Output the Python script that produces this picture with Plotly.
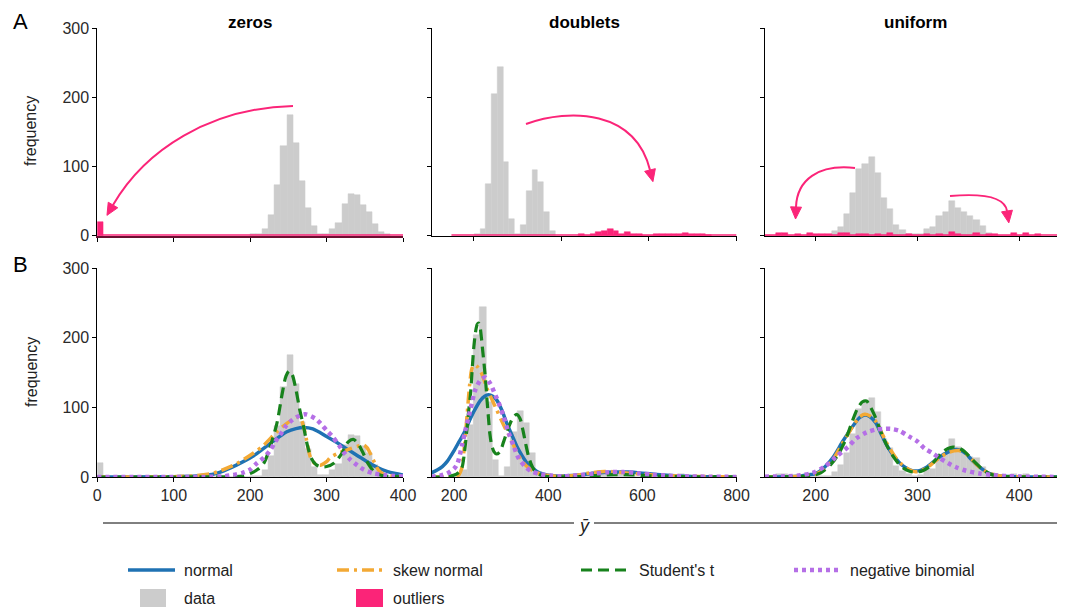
import numpy as np
import plotly.graph_objects as go

# page body adds an 8px offset; the figure is sized so the picture lines up with the 1065x611 window
OFF = 8
W, H = 1065 - OFF, 611 - OFF

# ---------------- data ----------------
panel_titles = ["zeros", "doublets", "uniform"]

zeros_bin_width = 8
zeros_inlier_start = 200
zeros_inlier_counts = [2, 2, 10, 30, 73, 129, 175, 134, 79, 40, 14, 3, 3, 10, 19, 46, 60, 59, 44, 34, 17, 5, 2]
zeros_outlier_start = 0
zeros_outlier_counts = [20]
zeros_outlier_span = [0, 400]

doublets_bin_width = 13.2
doublets_inlier_start = 202
doublets_inlier_counts = [3, 10, 74, 204, 244, 107, 24, 2, 15, 64, 95, 78, 34, 7]
doublets_outlier_start = 439.6
doublets_outlier_counts = [3, 0, 2, 6, 7, 9, 7, 3, 5, 3, 2, 0, 0, 2, 2, 3, 3, 3, 4, 3, 2, 2, 1]
doublets_outlier_span = [150, 800]

uniform_bin_width = 6.06
uniform_inlier_start = 215.7
uniform_inlier_counts = [7, 13, 31, 62, 96, 103, 114, 91, 54, 38, 16, 8, 2, 2, 3, 10, 12, 28, 34, 50,
                         40, 34, 28, 23, 14, 4]
uniform_outlier_start = 149.04
uniform_outlier_counts = [0, 0, 4, 4, 0, 2, 0, 4, 2, 2, 2, 0, 4, 4, 0, 2, 3, 0, 3, 0, 4, 0, 0, 2, 0,
                          0, 2, 0, 3, 0, 5, 3, 0, 0, 4, 0, 2, 3, 0, 0, 4, 0, 4, 0, 2]
uniform_outlier_span = [150, 440]

# fitted densities (scaled to counts)
zeros_normal_x = [0, 50, 100, 130, 150, 161, 182, 204, 226, 248, 260, 270, 282, 300, 314, 327, 340, 353, 366, 379, 390, 400]
zeros_normal_y = [0, 0.1, 0.5, 1.5, 3.5, 7, 17, 30, 48, 65, 69.5, 71, 69, 58, 49, 40, 31, 22, 14, 8, 5, 3]
zeros_skew_x = [0, 50, 100, 130, 150, 161, 182, 204, 218, 235, 248, 256, 262, 266, 270, 274, 279, 285, 292,
                300, 305, 315, 327, 340, 348, 353, 358, 363, 368, 375, 385, 400]
zeros_skew_y = [0, 0.1, 0.5, 2, 5, 9, 19, 34, 46, 65, 77, 83, 86, 84, 72, 52, 28, 19, 17,
                22, 28, 34, 39, 44, 46, 42, 32, 20, 10, 4, 1.5, 0.5]
zeros_student_x = [0, 100, 150, 180, 190, 200, 210, 218, 226, 235, 242, 247, 251, 255, 260, 265, 270, 275,
                   280, 286, 292, 300, 310, 320, 328, 335, 341, 348, 355, 362, 370, 380, 400]
zeros_student_y = [0, 0, 0.2, 0.6, 1.5, 5, 11, 20, 43, 77, 120, 145, 152, 147, 125, 96, 72, 45,
                   27, 18, 15, 15, 20, 34, 50, 54, 48, 34, 18, 8, 3, 1, 0.2]
zeros_negbin_x = [0, 100, 150, 165, 178, 190, 199, 209, 218, 226, 233, 239, 246, 252, 261, 272, 285, 292,
                  300, 307, 316, 322, 331, 340, 348, 362, 375, 388, 400]
zeros_negbin_y = [0, 0, 0.3, 1, 3, 6, 10, 20, 28, 38, 51, 60, 72, 79, 86, 90, 84, 77,
                  67, 59, 46, 36, 25, 17, 11, 5, 3, 1.5, 0.8]

doublets_normal_x = [152, 164, 175, 185, 200, 210, 221, 232, 242, 256, 265, 273, 282, 291, 302, 312, 323, 334,
                     345, 355, 366, 376, 390, 405, 420, 450, 480, 510, 540, 570, 600, 630, 660, 700, 750, 800]
doublets_normal_y = [6, 10, 15, 22, 38, 50, 63, 80, 94, 110, 116, 118, 116, 110, 95, 77, 60, 43,
                     30, 20, 13, 8, 4, 2, 1.5, 2, 4, 6, 7, 7, 5.5, 3.5, 2, 0.8, 0.3, 0.1]
doublets_skew_x = [152, 180, 200, 210, 216, 222, 228, 233, 238, 243, 250, 259, 270, 280, 290, 300, 310, 320,
                   330, 342, 355, 370, 385, 400, 430, 460, 490, 520, 550, 580, 610, 640, 680, 720, 800]
doublets_skew_y = [0, 0, 0.5, 3, 12, 45, 92, 132, 156, 161, 158, 148, 127, 112, 97, 82, 68, 56,
                   40, 25, 15, 8, 4, 2, 1, 2.5, 6, 8, 7, 5, 3.5, 2.5, 1.5, 0.8, 0.2]
doublets_student_x = [152, 190, 205, 212, 217, 222, 227, 231, 235, 239, 242, 246, 249, 252, 255, 258, 261, 264,
                      267, 270, 273, 276, 280, 285, 290, 297, 305, 315, 325, 333, 340, 346, 352, 358, 364,
                      370, 380, 395, 420, 460, 500, 540, 580, 620, 680, 800]
doublets_student_y = [0, 1, 4, 8, 14, 35, 67, 95, 120, 160, 187, 210, 219, 221, 216, 200, 180, 160,
                      138, 110, 85, 62, 45, 36, 33, 36, 50, 70, 85, 90, 84, 68, 48, 30, 18,
                      10, 4, 1, 0.3, 0.5, 2, 3.5, 3, 1.5, 0.5, 0.1]
doublets_negbin_x = [152, 170, 185, 192, 200, 207, 217, 224, 235, 245, 256, 266, 277, 288, 295, 305, 316, 327,
                     337, 351, 365, 383, 404, 430, 470, 500, 530, 560, 590, 620, 650, 700, 800]
doublets_negbin_y = [0.5, 2, 5, 8, 12, 19, 46, 67, 98, 125, 139, 143, 134, 117, 106, 87, 63, 44,
                     27, 15, 8, 4, 2, 1, 3, 5, 7, 7, 5.5, 3.5, 2, 0.8, 0.1]

uniform_x = [150, 170, 185, 195, 200, 208, 217, 227, 237, 243, 248, 253, 259, 264, 269, 274, 279, 284, 289,
             294, 298, 303, 309, 316, 322, 329, 336, 341, 348, 353, 358, 364, 371, 380, 390, 400, 420, 445]
uniform_normal_y = [0, 0.3, 1.5, 3.5, 5, 13, 28, 52, 74, 85, 89, 87, 78, 63, 48, 36, 26, 18, 13,
                    9.5, 8.5, 9.5, 14, 22, 29, 35, 39, 39, 33, 25, 18, 11, 5, 2, 0.8, 0.3, 0.1, 0]
uniform_skew_y = [0, 0.2, 1, 2.5, 4, 11, 25, 50, 74, 86, 90, 88, 80, 66, 51, 38, 27, 19, 13,
                  9, 7.5, 8.5, 13, 21, 28, 34, 37.5, 38, 33, 26, 18, 11, 5, 2, 0.7, 0.2, 0.1, 0]
uniform_student_x = [150, 180, 195, 205, 215, 222, 229, 236, 241, 246, 250, 254, 258, 262, 266, 270, 275, 281,
                     287, 293, 299, 305, 312, 318, 324, 330, 335, 340, 346, 352, 358, 364, 372, 385, 400, 445]
uniform_student_y = [0, 0.5, 2, 6, 18, 32, 52, 80, 98, 108, 109, 100, 88, 73, 58, 45, 32, 20,
                     12, 8, 7, 9, 15, 25, 35, 41, 43, 42, 37, 28, 19, 11, 4, 1, 0.3, 0]
uniform_negbin_x = [150, 170, 185, 197, 209, 220, 232, 240, 250, 259, 267, 274, 282, 292, 300, 307, 315, 322,
                    330, 338, 348, 361, 374, 387, 400, 420, 445]
uniform_negbin_y = [0.5, 1, 2.5, 6, 15, 29, 43.5, 55.5, 64, 68, 69, 69, 66.5, 58, 51, 41, 34, 27,
                    20, 14, 9, 5, 3, 1.4, 0.7, 0.3, 0.1]

y_ticks = [0, 100, 200, 300]
x_ticks_zeros = [0, 100, 200, 300, 400]
x_ticks_doublets = [200, 400, 600, 800]
x_ticks_uniform = [200, 300, 400]

# ---------------- style ----------------
GRAY = "#cccccc"
PINK = "#fb2478"
BLUE = "#1f72b3"
ORANGE = "#f3a935"
GREEN = "#17821c"
PURPLE = "#b56fe6"
FONT = "Liberation Sans, Arial, sans-serif"

fits = [
    ("normal", BLUE, "solid", 3.5),
    ("skew normal", ORANGE, "12px,5px,3px,5px", 3.5),
    ("Student's t", GREEN, "11px,6px", 3.2),
    ("negative binomial", PURPLE, "4px,4px", 4.5),
]


def centers(start, width, n):
    return start + width * (np.arange(n) + 0.5)


def totals(s_in, c_in, s_out, c_out, w):
    s0 = min(s_in, s_out)
    o_in = int(round((s_in - s0) / w))
    o_out = int(round((s_out - s0) / w))
    n = max(o_in + len(c_in), o_out + len(c_out))
    t = np.zeros(n)
    t[o_in:o_in + len(c_in)] += np.array(c_in, float)
    t[o_out:o_out + len(c_out)] += np.array(c_out, float)
    return s0, t


panels = [
    dict(w=zeros_bin_width, si=zeros_inlier_start, ci=zeros_inlier_counts, so=zeros_outlier_start,
         co=zeros_outlier_counts, span=zeros_outlier_span,
         curves=[(zeros_normal_x, zeros_normal_y), (zeros_skew_x, zeros_skew_y),
                 (zeros_student_x, zeros_student_y), (zeros_negbin_x, zeros_negbin_y)]),
    dict(w=doublets_bin_width, si=doublets_inlier_start, ci=doublets_inlier_counts, so=doublets_outlier_start,
         co=doublets_outlier_counts, span=doublets_outlier_span,
         curves=[(doublets_normal_x, doublets_normal_y), (doublets_skew_x, doublets_skew_y),
                 (doublets_student_x, doublets_student_y), (doublets_negbin_x, doublets_negbin_y)]),
    dict(w=uniform_bin_width, si=uniform_inlier_start, ci=uniform_inlier_counts, so=uniform_outlier_start,
         co=uniform_outlier_counts, span=uniform_outlier_span,
         curves=[(uniform_x, uniform_normal_y), (uniform_x, uniform_skew_y),
                 (uniform_student_x, uniform_student_y), (uniform_negbin_x, uniform_negbin_y)]),
]

fig = go.Figure()

for c, p in enumerate(panels):
    top = str(c + 1) if c > 0 else ""
    bot = str(c + 4)
    xt, yt = "x" + top, "y" + top
    xb, yb = "x" + bot, "y" + bot
    # top: inliers gray + outliers pink
    fig.add_trace(go.Bar(x=centers(p["si"], p["w"], len(p["ci"])), y=p["ci"], width=p["w"],
                         marker=dict(color=GRAY, line=dict(color=GRAY, width=0.5)),
                         xaxis=xt, yaxis=yt, showlegend=False, hoverinfo="skip"))
    fig.add_trace(go.Scatter(x=p["span"], y=[0, 0], mode="lines", line=dict(color=PINK, width=3),
                             xaxis=xt, yaxis=yt, showlegend=False, hoverinfo="skip"))
    fig.add_trace(go.Bar(x=centers(p["so"], p["w"], len(p["co"])), y=p["co"], width=p["w"],
                         marker=dict(color=PINK, line=dict(color=PINK, width=0.5)),
                         xaxis=xt, yaxis=yt, showlegend=False, hoverinfo="skip"))
    # bottom: all data gray + fits
    s0, tot = totals(p["si"], p["ci"], p["so"], p["co"], p["w"])
    fig.add_trace(go.Bar(x=centers(s0, p["w"], len(tot)), y=tot, width=p["w"],
                         marker=dict(color=GRAY, line=dict(color=GRAY, width=0.5)),
                         xaxis=xb, yaxis=yb, showlegend=False, hoverinfo="skip"))
    for (name, col, dash, lw), (cx, cy) in zip(fits, p["curves"]):
        fig.add_trace(go.Scatter(x=cx, y=cy, mode="lines", name=name,
                                 line=dict(color=col, dash=dash, width=lw, shape="spline", smoothing=0.8),
                                 xaxis=xb, yaxis=yb, showlegend=False))

# ---------------- layout (pixel positions in the 1065x611 window) ----------------
col_px = [(97.3, 403.0), (431.5, 736.5), (765.0, 1065.0)]
row_px = [(28.0, 235.7), (268.0, 477.0)]
x_ranges = [[[0, 400], [104.5, 800], [150.2, 445]],
            [[0, 400], [152, 800], [150.2, 445]]]
x_ticks = [x_ticks_zeros, x_ticks_doublets, x_ticks_uniform]


def fx(x):
    return (x - OFF) / W


def fy(y):
    return 1 - (y - OFF) / H


def P(x, y):
    return fx(x), fy(y)


layout = dict(width=W, height=H, margin=dict(l=0, r=0, t=0, b=0, pad=0, autoexpand=False),
              template="none",
              plot_bgcolor="white", paper_bgcolor="white", barmode="overlay", bargap=0,
              showlegend=False, font=dict(family=FONT, size=16, color="#222"))

for r in range(2):
    for c in range(3):
        i = r * 3 + c + 1
        sfx = "" if i == 1 else str(i)
        x0, x1 = col_px[c]
        ytop, ybot = row_px[r]
        layout["xaxis" + sfx] = dict(
            domain=[max(0, fx(x0)), min(1, fx(x1))], range=x_ranges[r][c], anchor="y" + sfx, automargin=False,
            showline=True, linecolor=("#6a0f30" if (r == 0 and c == 0) else "black"),
            linewidth=(2 if (r == 0 and c == 0) else 1),
            ticks="outside", ticklen=4, tickwidth=1, tickcolor="black", tickvals=x_ticks[c],
            showticklabels=(r == 1), showgrid=False, zeroline=False,
            tickfont=dict(size=16, color="#2a2a2a"))
        layout["yaxis" + sfx] = dict(
            domain=[fy(ybot), fy(ytop)], range=[0, 300], anchor="x" + sfx, automargin=False,
            showline=True, linecolor="black", linewidth=1,
            ticks="outside", ticklen=4, tickwidth=1, tickcolor="black", tickvals=y_ticks,
            showticklabels=(c == 0), showgrid=False, zeroline=False,
            tickfont=dict(size=16, color="#2a2a2a"))

fig.update_layout(**layout)

annotations = []
shapes = []

# panel titles
for c, t in enumerate(panel_titles):
    cx = (col_px[c][0] + col_px[c][1]) / 2
    if c == 2:
        cx = 915
    ax, ay = P(cx, 22)
    annotations.append(dict(x=ax, y=ay, xref="paper", yref="paper", text="<b>%s</b>" % t,
                            showarrow=False, font=dict(size=17, color="black"),
                            xanchor="center", yanchor="middle"))
# row letters
for letter, ly in [("A", 21), ("B", 264)]:
    ax, ay = P(20, ly)
    annotations.append(dict(x=ax, y=ay, xref="paper", yref="paper", text=letter, showarrow=False,
                            font=dict(size=22, color="black"), xanchor="center", yanchor="middle"))
# y titles
for ly in [131, 372]:
    ax, ay = P(31, ly)
    annotations.append(dict(x=ax, y=ay, xref="paper", yref="paper", text="frequency", showarrow=False,
                            textangle=-90, font=dict(size=16, color="#222"),
                            xanchor="center", yanchor="middle"))
# shared x title with rule
for (a, b) in [(103, 574), (594, 1063)]:
    xa, ya = P(a, 523)
    xb_, yb_ = P(b, 523)
    shapes.append(dict(type="line", xref="paper", yref="paper", x0=xa, y0=ya, x1=xb_, y1=yb_,
                       line=dict(color="black", width=1)))
ax, ay = P(584, 526)
annotations.append(dict(x=ax, y=ay, xref="paper", yref="paper", text="<i>ȳ</i>", showarrow=False,
                        font=dict(size=18, color="#222"), xanchor="center", yanchor="middle"))


# curved arrows (pixel geometry)
def arrow(p0, c1, c2, p3, L=12.0, hw=5.5):
    d = np.array(p3, float) - np.array(c2, float)
    d /= np.linalg.norm(d)
    tip = np.array(p3, float) + L * d
    n = np.array([-d[1], d[0]])
    b1 = np.array(p3, float) + hw * n
    b2 = np.array(p3, float) - hw * n

    def s(pt):
        x, y = P(pt[0], pt[1])
        return "%.5f,%.5f" % (x, y)

    curve = "M %s C %s %s %s" % (s(p0), s(c1), s(c2), s(p3))
    head = "M %s L %s L %s Z" % (s(tip), s(b1), s(b2))
    shapes.append(dict(type="path", xref="paper", yref="paper", path=curve,
                       line=dict(color=PINK, width=2)))
    shapes.append(dict(type="path", xref="paper", yref="paper", path=head,
                       line=dict(color=PINK, width=1), fillcolor=PINK))


arrow((293, 106), (210, 108), (145, 150), (113, 205))
arrow((526, 124), (570, 108), (635, 110), (650, 170))
arrow((855, 168), (818, 164), (797, 180), (796, 207))
arrow((950, 196), (985, 193), (1005, 198), (1007, 211))

# legend (drawn manually to match layout)
leg_row1 = 570
for (name, col, dash, lw), (lx0, lx1, tx) in zip(
        fits, [(128, 175, 182), (337, 384, 391), (581, 628, 637), (794, 841, 848)]):
    xa, ya = P(lx0, leg_row1)
    xb_, _ = P(lx1, leg_row1)
    shapes.append(dict(type="line", xref="paper", yref="paper", x0=xa, y0=ya, x1=xb_, y1=ya,
                       line=dict(color=col, width=lw, dash=dash)))
    tx_, ty_ = P(tx, leg_row1)
    annotations.append(dict(x=tx_, y=ty_, xref="paper", yref="paper", text=name, showarrow=False,
                            font=dict(size=16, color="#222"), xanchor="left", yanchor="middle"))
leg_row2 = 598
for (name, col), (rx0, rx1, tx) in zip([("data", GRAY), ("outliers", PINK)],
                                        [(140, 166, 182), (356, 383, 391)]):
    xa, ya = P(rx0, leg_row2 - 9)
    xb_, yb_ = P(rx1, leg_row2 + 9)
    shapes.append(dict(type="rect", xref="paper", yref="paper", x0=xa, y0=yb_, x1=xb_, y1=ya,
                       line=dict(width=0), fillcolor=col))
    tx_, ty_ = P(tx, leg_row2)
    annotations.append(dict(x=tx_, y=ty_, xref="paper", yref="paper", text=name, showarrow=False,
                            font=dict(size=16, color="#222"), xanchor="left", yanchor="middle"))

fig.update_layout(annotations=annotations, shapes=shapes)
fig.write_html("out.html")
